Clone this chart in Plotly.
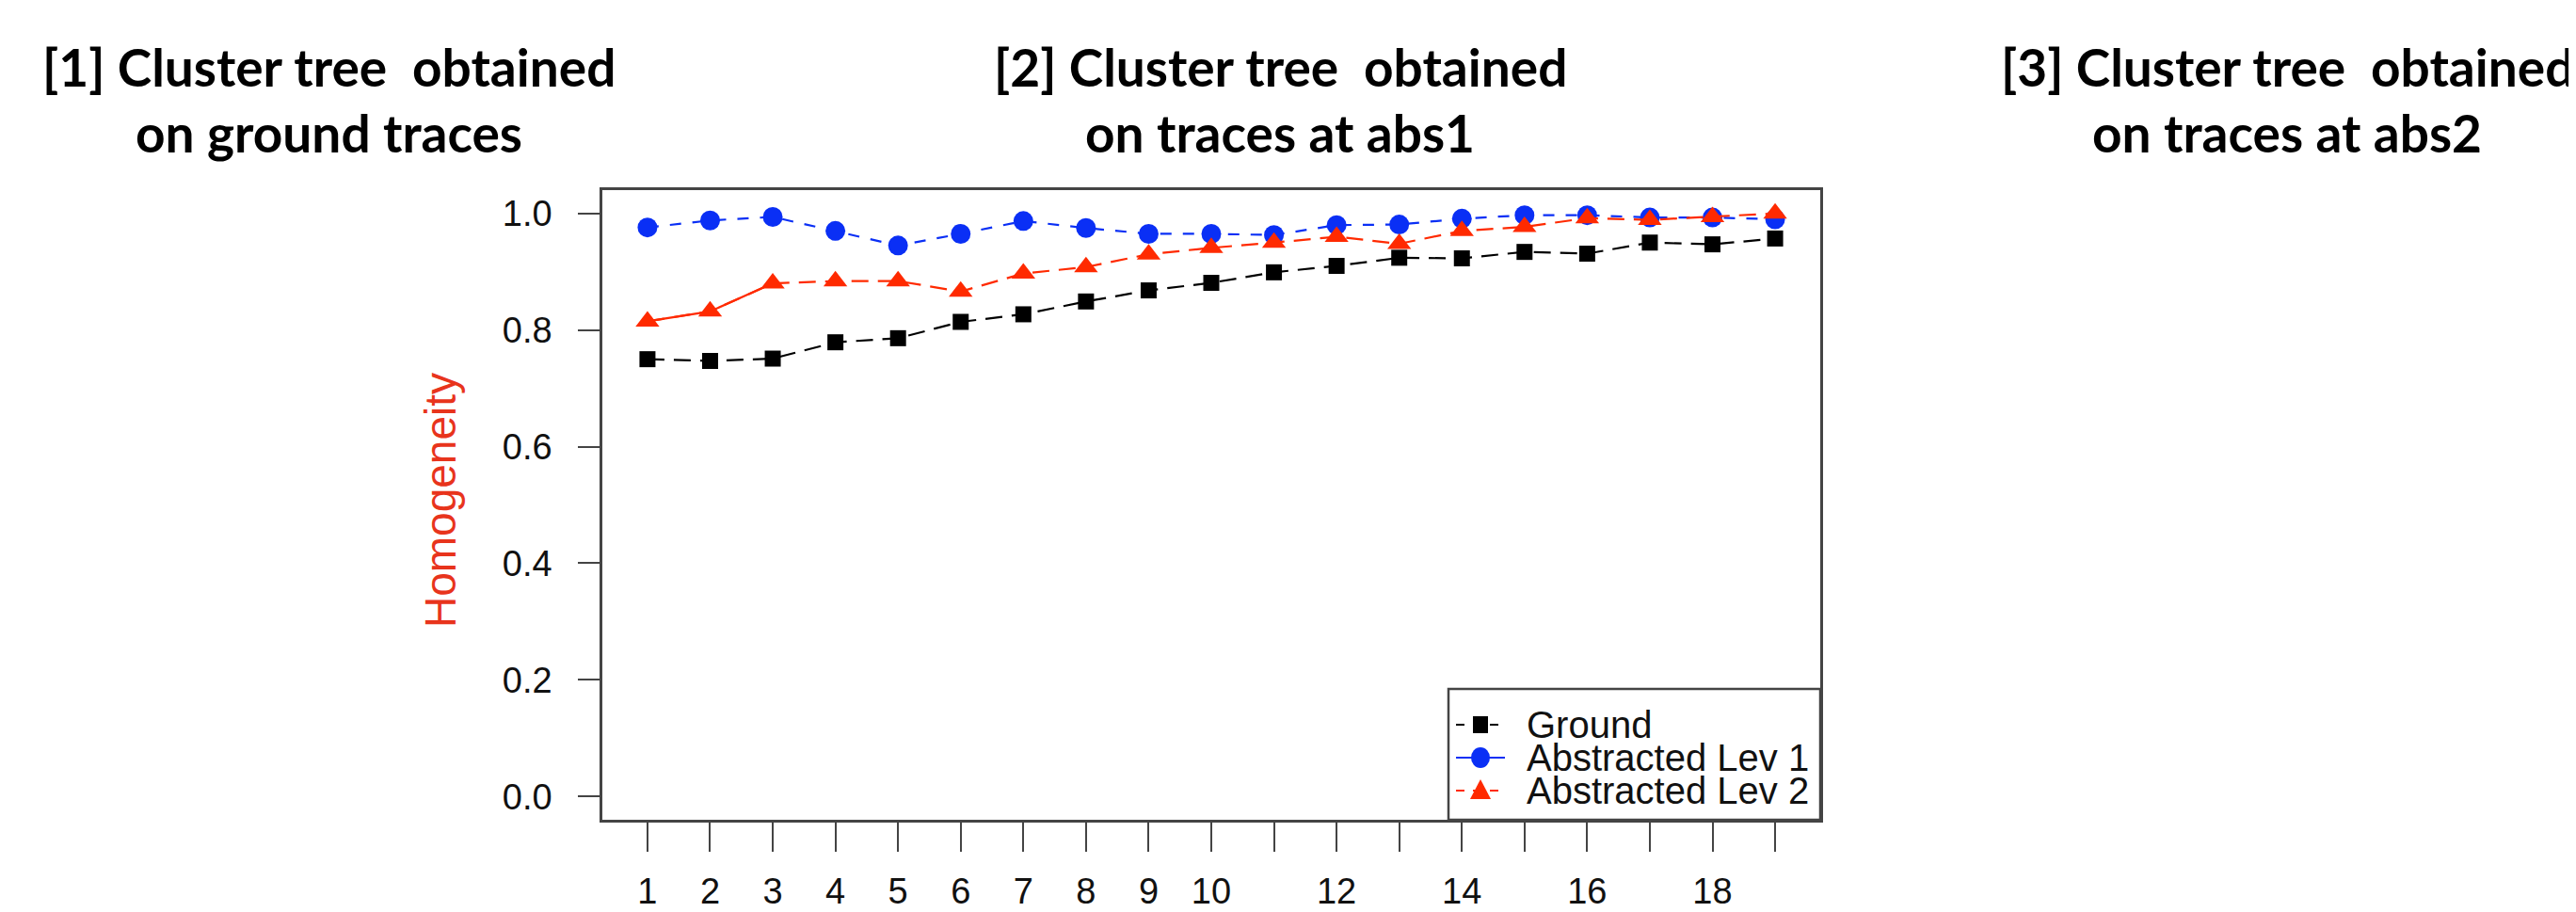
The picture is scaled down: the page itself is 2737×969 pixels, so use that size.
import plotly.graph_objects as go

# ---------------- data ----------------
x_vals = list(range(1, 20))
x_ticktext = ["1", "2", "3", "4", "5", "6", "7", "8", "9", "10",
              "", "12", "", "14", "", "16", "", "18", ""]
ground = [0.750, 0.747, 0.751, 0.779, 0.786, 0.814, 0.827, 0.849, 0.868, 0.881,
          0.899, 0.910, 0.924, 0.923, 0.934, 0.931, 0.950, 0.947, 0.957]
lev1 = [0.976, 0.988, 0.994, 0.970, 0.945, 0.965, 0.987, 0.975, 0.965, 0.965,
        0.963, 0.980, 0.981, 0.991, 0.997, 0.997, 0.993, 0.993, 0.990]
lev2 = [0.815, 0.832, 0.880, 0.884, 0.884, 0.866, 0.897, 0.908, 0.930, 0.941,
        0.950, 0.960, 0.948, 0.970, 0.977, 0.992, 0.989, 0.994, 1.000]
series_names = ["Ground", "Abstracted Lev 1", "Abstracted Lev 2"]
y_ticks = [0.0, 0.2, 0.4, 0.6, 0.8, 1.0]
panel_titles = [
    ("[1] Cluster tree  obtained", "on ground traces"),
    ("[2] Cluster tree  obtained", "on traces at abs1"),
    ("[3] Cluster tree  obtained", "on traces at abs2"),
]
y_title = "Homogeneity"

# ---------------- layout geometry (pixels) ----------------
W, H = 2737, 969
L, R, T, B = 632, 1926, 194, 863
PW, PH = R - L, B - T


def px_x(p):
    return (p - L) / PW


def px_y(p):
    return (B - p) / PH


BLACK = "#000000"
BLUE = "#0a2ff5"
RED = "#ff2a00"
AXIS = "#444444"
SANS = "Liberation Sans, Arial"

fig = go.Figure()

fig.add_trace(go.Scatter(
    x=x_vals, y=ground, mode="lines+markers", name=series_names[0],
    line=dict(color=BLACK, width=2.2, dash="18px,10px"),
    marker=dict(symbol="square", size=17, color=BLACK),
    showlegend=False))
fig.add_trace(go.Scatter(
    x=x_vals, y=lev1, mode="lines+markers", name=series_names[1],
    line=dict(color=BLUE, width=2.2, dash="12px,12px"),
    marker=dict(symbol="circle", size=21, color=BLUE),
    showlegend=False))
fig.add_trace(go.Scatter(
    x=x_vals[:3], y=lev2[:3], mode="lines", name=series_names[2],
    line=dict(color=RED, width=2.2), showlegend=False, hoverinfo="skip"))
fig.add_trace(go.Scatter(
    x=x_vals, y=lev2, mode="lines+markers", name=series_names[2],
    line=dict(color=RED, width=2.2, dash="18px,10px"),
    marker=dict(symbol="triangle-up", size=22, color=RED),
    showlegend=False))

annotations = []
shapes = []

# panel titles
title_centers = [341, 1352, 2422]
for (l1, l2), cx in zip(panel_titles, title_centers):
    for txt, cy in ((l1, 63), (l2, 133)):
        annotations.append(dict(
            text=txt, xref="paper", yref="paper", x=px_x(cx), y=px_y(cy),
            xanchor="center", yanchor="middle", showarrow=False,
            font=dict(family="Lato", size=55, color="#000000", weight="bold")))

# y axis title
annotations.append(dict(
    text=y_title, xref="paper", yref="paper", x=px_x(460), y=px_y(524),
    xanchor="center", yanchor="middle", showarrow=False, textangle=-90,
    font=dict(family=SANS, size=46, color="#e8341c")))

# legend (drawn manually)
shapes.append(dict(type="rect", xref="paper", yref="paper",
                   x0=px_x(1531), x1=px_x(1926), y0=px_y(863), y1=px_y(724),
                   line=dict(color=AXIS, width=2.5), fillcolor="white", layer="above"))
rows = [762, 797, 832]
colors = [BLACK, BLUE, RED]
dashes = ["dash", "solid", "dash"]
for cy, col, dsh, sym in zip(rows, colors, dashes, ["square", "circle", "triangle"]):
    shapes.append(dict(type="line", xref="paper", yref="paper",
                       x0=px_x(1539), x1=px_x(1591), y0=px_y(cy), y1=px_y(cy),
                       line=dict(color=col, width=2.2, dash=dsh), layer="above"))
    if sym == "square":
        shapes.append(dict(type="rect", xref="paper", yref="paper",
                           x0=px_x(1557), x1=px_x(1573), y0=px_y(cy + 9), y1=px_y(cy - 9),
                           line=dict(width=0), fillcolor=col, layer="above"))
    elif sym == "circle":
        shapes.append(dict(type="circle", xref="paper", yref="paper",
                           x0=px_x(1555), x1=px_x(1575), y0=px_y(cy + 11), y1=px_y(cy - 11),
                           line=dict(width=0), fillcolor=col, layer="above"))
    else:
        path = "M {} {} L {} {} L {} {} Z".format(
            px_x(1565), px_y(cy - 12), px_x(1554), px_y(cy + 9), px_x(1576), px_y(cy + 9))
        shapes.append(dict(type="path", xref="paper", yref="paper", path=path,
                           line=dict(width=0), fillcolor=col, layer="above"))

# legend text: one block, tight line spacing (base size sets line pitch)
legend_text = "<br>".join("<span style='font-size:40px'>{}</span>".format(n) for n in series_names)
annotations.append(dict(
    text=legend_text, xref="paper", yref="paper", x=px_x(1612), y=px_y(rows[1]),
    xanchor="left", yanchor="middle", align="left", showarrow=False,
    font=dict(family=SANS, size=27, color="#111111")))

fig.update_layout(
    width=W, height=H,
    margin=dict(l=L, r=W - R, t=T, b=H - B, pad=0, autoexpand=False),
    paper_bgcolor="white", plot_bgcolor="white",
    showlegend=False,
    annotations=annotations, shapes=shapes,
    xaxis=dict(range=[0.28, 19.72], tickmode="array", tickvals=x_vals, ticktext=x_ticktext,
               ticks="outside", ticklen=31, tickwidth=2, tickcolor=AXIS,
               showline=True, linecolor=AXIS, linewidth=2.5, mirror=True, automargin=False,
               showgrid=False, zeroline=False,
               tickfont=dict(family=SANS, size=38, color="#111111"), ticklabelstandoff=10),
    yaxis=dict(range=[-0.04, 1.04], tickmode="array", tickvals=y_ticks, tickformat=".1f",
               ticks="outside", ticklen=23, tickwidth=2, tickcolor=AXIS,
               showline=True, linecolor=AXIS, linewidth=2.5, mirror=True, automargin=False,
               showgrid=False, zeroline=False,
               tickfont=dict(family=SANS, size=38, color="#111111"), ticklabelstandoff=20),
)

fig.write_html("out.html")
